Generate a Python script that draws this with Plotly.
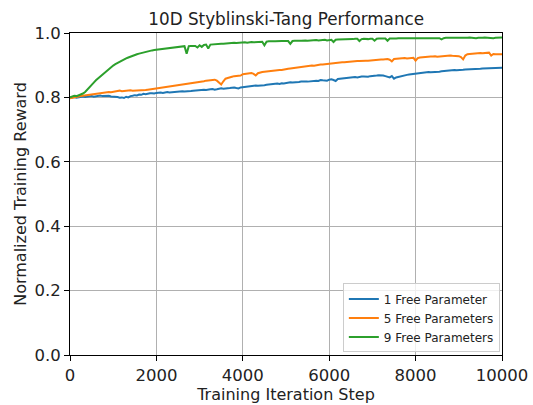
import plotly.graph_objects as go

# Training iteration steps (every 50 iterations)
steps = list(range(0, 10001, 50))

# Normalized training reward per configuration
reward_1_param = [
    0.798, 0.800, 0.801, 0.799, 0.800, 0.802, 0.803, 0.801, 0.802, 0.804,
    0.804, 0.802, 0.803, 0.805, 0.806, 0.804, 0.804, 0.806, 0.805, 0.803,
    0.803, 0.802, 0.801, 0.799, 0.800, 0.798, 0.802, 0.800, 0.804, 0.805,
    0.807, 0.806, 0.809, 0.808, 0.811, 0.810, 0.812, 0.813, 0.813, 0.812,
    0.814, 0.815, 0.815, 0.814, 0.816, 0.817, 0.815, 0.816, 0.817, 0.818,
    0.818, 0.819, 0.819, 0.818, 0.818, 0.820, 0.820, 0.821, 0.822, 0.821,
    0.822, 0.823, 0.824, 0.823, 0.823, 0.825, 0.826, 0.824, 0.825, 0.827,
    0.828, 0.827, 0.827, 0.829, 0.829, 0.830, 0.831, 0.829, 0.828, 0.831,
    0.832, 0.833, 0.834, 0.835, 0.835, 0.836, 0.837, 0.836, 0.836, 0.838,
    0.838, 0.839, 0.840, 0.839, 0.841, 0.842, 0.843, 0.842, 0.844, 0.843,
    0.845, 0.846, 0.847, 0.846, 0.846, 0.847, 0.848, 0.849, 0.850, 0.849,
    0.849, 0.850, 0.851, 0.852, 0.852, 0.851, 0.854, 0.853, 0.853, 0.852,
    0.855, 0.856, 0.854, 0.851, 0.857, 0.858, 0.859, 0.860, 0.860, 0.861,
    0.861, 0.862, 0.863, 0.862, 0.864, 0.865, 0.865, 0.864, 0.864, 0.866,
    0.866, 0.867, 0.868, 0.869, 0.869, 0.868, 0.866, 0.863, 0.862, 0.866,
    0.858, 0.862, 0.864, 0.866, 0.868, 0.869, 0.870, 0.871, 0.872, 0.872,
    0.874, 0.875, 0.876, 0.876, 0.877, 0.878, 0.879, 0.878, 0.878, 0.879,
    0.880, 0.880, 0.881, 0.882, 0.883, 0.882, 0.884, 0.885, 0.885, 0.884,
    0.884, 0.885, 0.886, 0.887, 0.887, 0.888, 0.888, 0.889, 0.887, 0.888,
    0.889, 0.890, 0.890, 0.891, 0.891, 0.892, 0.892, 0.891, 0.891, 0.892,
    0.892,
]

reward_5_params = [
    0.797, 0.799, 0.800, 0.802, 0.803, 0.804, 0.805, 0.806, 0.807, 0.808,
    0.810, 0.811, 0.812, 0.813, 0.814, 0.813, 0.815, 0.816, 0.817, 0.816,
    0.818, 0.819, 0.820, 0.821, 0.819, 0.820, 0.821, 0.822, 0.822, 0.821,
    0.821, 0.822, 0.823, 0.822, 0.822, 0.823, 0.824, 0.825, 0.826, 0.826,
    0.827, 0.828, 0.829, 0.830, 0.830, 0.831, 0.832, 0.833, 0.834, 0.835,
    0.836, 0.837, 0.838, 0.839, 0.841, 0.842, 0.843, 0.844, 0.846, 0.847,
    0.848, 0.849, 0.850, 0.852, 0.853, 0.854, 0.856, 0.855, 0.852, 0.846,
    0.840, 0.850, 0.858, 0.860, 0.863, 0.864, 0.866, 0.867, 0.869, 0.868,
    0.872, 0.873, 0.874, 0.875, 0.876, 0.873, 0.868, 0.875, 0.878, 0.879,
    0.880, 0.881, 0.882, 0.883, 0.884, 0.885, 0.886, 0.885, 0.885, 0.887,
    0.888, 0.889, 0.890, 0.891, 0.891, 0.892, 0.893, 0.894, 0.895, 0.896,
    0.897, 0.898, 0.899, 0.898, 0.900, 0.901, 0.902, 0.902, 0.903, 0.904,
    0.905, 0.905, 0.906, 0.907, 0.907, 0.908, 0.909, 0.909, 0.910, 0.911,
    0.911, 0.911, 0.912, 0.913, 0.913, 0.914, 0.915, 0.914, 0.914, 0.915,
    0.916, 0.916, 0.917, 0.918, 0.918, 0.918, 0.919, 0.919, 0.917, 0.912,
    0.919, 0.920, 0.920, 0.921, 0.922, 0.922, 0.921, 0.922, 0.923, 0.923,
    0.914, 0.922, 0.924, 0.925, 0.925, 0.926, 0.926, 0.927, 0.927, 0.928,
    0.926, 0.927, 0.928, 0.929, 0.929, 0.930, 0.930, 0.929, 0.929, 0.929,
    0.928, 0.925, 0.918, 0.930, 0.934, 0.935, 0.936, 0.937, 0.937, 0.938,
    0.938, 0.937, 0.937, 0.938, 0.939, 0.930, 0.935, 0.934, 0.934, 0.935,
    0.934,
]

reward_9_params = [
    0.800, 0.803, 0.805, 0.804, 0.806, 0.808, 0.812, 0.817, 0.825, 0.832,
    0.840, 0.846, 0.853, 0.859, 0.866, 0.872, 0.878, 0.884, 0.889, 0.894,
    0.899, 0.903, 0.907, 0.911, 0.914, 0.918, 0.921, 0.924, 0.927, 0.930,
    0.932, 0.934, 0.936, 0.938, 0.940, 0.941, 0.943, 0.944, 0.946, 0.947,
    0.948, 0.949, 0.950, 0.951, 0.952, 0.953, 0.954, 0.955, 0.956, 0.956,
    0.957, 0.958, 0.958, 0.959, 0.936, 0.959, 0.960, 0.961, 0.960, 0.955,
    0.962, 0.957, 0.963, 0.964, 0.952, 0.964, 0.965, 0.966, 0.965, 0.966,
    0.967, 0.967, 0.968, 0.968, 0.969, 0.969, 0.970, 0.969, 0.970, 0.971,
    0.971, 0.971, 0.970, 0.972, 0.972, 0.971, 0.972, 0.973, 0.972, 0.973,
    0.962, 0.973, 0.974, 0.973, 0.974, 0.974, 0.975, 0.974, 0.975, 0.975,
    0.974, 0.975, 0.966, 0.975, 0.976, 0.975, 0.976, 0.976, 0.977, 0.977,
    0.976, 0.977, 0.977, 0.978, 0.978, 0.977, 0.978, 0.978, 0.979, 0.977,
    0.978, 0.979, 0.972, 0.979, 0.980, 0.980, 0.979, 0.980, 0.981, 0.981,
    0.980, 0.981, 0.982, 0.982, 0.975, 0.981, 0.982, 0.981, 0.981, 0.982,
    0.982, 0.976, 0.982, 0.983, 0.983, 0.982, 0.983, 0.976, 0.983, 0.983,
    0.982, 0.983, 0.984, 0.984, 0.983, 0.984, 0.984, 0.983, 0.984, 0.985,
    0.985, 0.984, 0.984, 0.985, 0.984, 0.983, 0.985, 0.985, 0.984, 0.985,
    0.983, 0.984, 0.980, 0.984, 0.985, 0.985, 0.984, 0.985, 0.985, 0.984,
    0.985, 0.984, 0.983, 0.985, 0.985, 0.986, 0.985, 0.985, 0.984, 0.985,
    0.984, 0.985, 0.986, 0.985, 0.986, 0.985, 0.984, 0.985, 0.986, 0.985,
    0.986,
]

series_names = ["1 Free Parameter", "5 Free Parameters", "9 Free Parameters"]
series_values = [reward_1_param, reward_5_params, reward_9_params]
colors = ["#1f77b4", "#ff7f0e", "#2ca02c"]

x_ticks = [0, 2000, 4000, 6000, 8000, 10000]
y_ticks = [0.0, 0.2, 0.4, 0.6, 0.8, 1.0]

font_family = "DejaVu Sans, sans-serif"

fig = go.Figure()
for name, vals, col in zip(series_names, series_values, colors):
    fig.add_trace(go.Scatter(
        x=steps, y=vals, mode="lines", name=name,
        line=dict(color=col, width=2),
    ))

axis_common = dict(
    showline=True, linecolor="black", linewidth=1, mirror=True,
    ticks="outside", ticklen=5, tickcolor="black", tickwidth=1,
    showgrid=True, gridcolor="#b0b0b0", gridwidth=1,
    zeroline=False,
    tickfont=dict(family=font_family, size=16.5, color="#222"),
    title_font=dict(family=font_family, size=16, color="#222"),
)

fig.update_xaxes(
    range=[0, 10000], tickvals=x_ticks, ticktext=[str(t) for t in x_ticks],
    title_text="Training Iteration Step", title_standoff=1, **axis_common,
)
fig.update_yaxes(
    range=[0, 1.0], tickvals=y_ticks, ticktext=[f"{t:.1f}" for t in y_ticks],
    title_text="Normalized Training Reward", title_standoff=3, **axis_common,
)

fig.update_layout(
    width=533, height=405,
    margin=dict(l=70, r=31, t=33, b=50, autoexpand=False),
    paper_bgcolor="white", plot_bgcolor="white",
    title=dict(
        text="10D Styblinski-Tang Performance",
        x=0.537, xanchor="center", y=1 - 19 / 405, yanchor="middle",
        yref="container",
        font=dict(family=font_family, size=16.8, color="#222"),
    ),
    legend=dict(
        x=0.995, xanchor="right", y=0.008, yanchor="bottom",
        bgcolor="rgba(255,255,255,0.8)", bordercolor="#cccccc", borderwidth=1,
        font=dict(family=font_family, size=12, color="#222"),
        itemwidth=30, tracegroupgap=0,
    ),
    showlegend=True,
)

fig.write_html("out.html")
